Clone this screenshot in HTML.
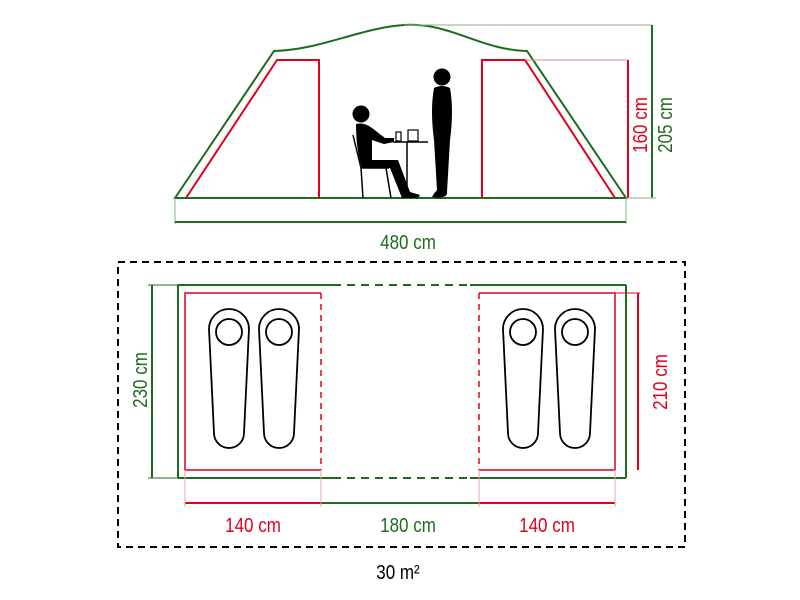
<!DOCTYPE html>
<html><head><meta charset="utf-8"><style>body{margin:0;background:#fff}svg{display:block}</style></head>
<body>
<svg width="800" height="600" viewBox="0 0 800 600" xmlns="http://www.w3.org/2000/svg" font-family="Liberation Sans, sans-serif">
<g fill="none">
<path d="M175,198 L274,51 C320,50 360,28 404,25 C450,22 480,50 527,51 L626,198 Z" stroke="#1e6b1e" stroke-width="2"/>
<path d="M186,198 L277,60 L319,60 L319,198" stroke="#e0001a" stroke-width="2"/>
<path d="M482,198 L482,60 L525,60 L615,198" stroke="#e0001a" stroke-width="2"/>
<line x1="525" y1="60" x2="628" y2="60" stroke="#f08080" stroke-width="1"/>
<line x1="628" y1="60" x2="628" y2="198" stroke="#e0001a" stroke-width="2"/>
<line x1="404" y1="25" x2="652" y2="25" stroke="#8ab08a" stroke-width="1"/>
<line x1="652" y1="25" x2="652" y2="198" stroke="#1e6b1e" stroke-width="2"/>
<line x1="626" y1="198" x2="656" y2="198" stroke="#8ab08a" stroke-width="1"/>
<line x1="175" y1="198" x2="175" y2="224" stroke="#8ab08a" stroke-width="1"/>
<line x1="626" y1="198" x2="626" y2="224" stroke="#8ab08a" stroke-width="1"/>
<line x1="175" y1="222" x2="626" y2="222" stroke="#1e6b1e" stroke-width="2"/>
</g>
<g font-size="20">
<text transform="translate(408,249) scale(0.85,1)" fill="#1e6b1e" text-anchor="middle">480 cm</text>
<text transform="translate(647,125) rotate(-90) scale(0.85,1)" fill="#e0001a" text-anchor="middle">160 cm</text>
<text transform="translate(672,125) rotate(-90) scale(0.85,1)" fill="#1e6b1e" text-anchor="middle">205 cm</text>
</g>
<g fill="#000">
<circle cx="442" cy="77" r="8.5"/>
<path d="M434,88 Q442,84 450,88 Q454,110 450,140 L447,192 Q448,197 438,198 L432,197 Q434,193 437,190 L434,140 Q430,110 434,88 Z"/>
<circle cx="361" cy="114" r="8.5"/>
<path d="M356,124 Q364,122 372,128 L385,138 L394,138 L394,142 L384,144 L372,140 L372,160 L398,160 L410,192 L420,195 L418,198 L402,198 L390,168 L362,168 Q356,150 356,124 Z"/>
<rect x="396" y="132" width="5" height="9" fill="none" stroke="#000" stroke-width="1.2"/>
<rect x="408" y="130" width="10" height="11" fill="none" stroke="#000" stroke-width="1.2"/>
</g>
<g stroke="#000" stroke-width="1.5" fill="none">
<line x1="393" y1="142" x2="428" y2="142"/>
<line x1="407" y1="142" x2="407" y2="198"/>
<line x1="353" y1="135" x2="361" y2="168"/>
<line x1="361" y1="168" x2="363" y2="198"/>
<line x1="361" y1="168" x2="389" y2="168"/>
<line x1="386" y1="168" x2="391" y2="198"/>
</g>
<rect x="118" y="262" width="567" height="285" fill="none" stroke="#000" stroke-width="2" stroke-dasharray="7,5"/>
<g stroke="#1e6b1e" stroke-width="2" fill="none">
<line x1="178" y1="285" x2="178" y2="478"/>
<line x1="626" y1="285" x2="626" y2="478"/>
<line x1="178" y1="285" x2="333" y2="285"/><line x1="470" y1="285" x2="626" y2="285"/>
<line x1="178" y1="478" x2="333" y2="478"/><line x1="470" y1="478" x2="626" y2="478"/>
<line x1="333" y1="285" x2="470" y2="285" stroke-dasharray="8,6"/>
<line x1="333" y1="478" x2="470" y2="478" stroke-dasharray="8,6"/>
<line x1="152" y1="285" x2="152" y2="478"/>
<line x1="148" y1="285" x2="178" y2="285" stroke-width="1"/>
<line x1="148" y1="478" x2="178" y2="478" stroke-width="1"/>
<line x1="321" y1="503" x2="479" y2="503"/>
</g>
<g stroke="#e0001a" fill="none">
<path d="M321,293 L185,293 L185,470 L321,470" stroke-width="1.5"/>
<line x1="321" y1="293" x2="321" y2="470" stroke-width="1.5" stroke-dasharray="6,5"/>
<path d="M479,293 L615,293 L615,470 L479,470" stroke-width="1.5"/>
<line x1="479" y1="293" x2="479" y2="470" stroke-width="1.5" stroke-dasharray="6,5"/>
<line x1="615" y1="293" x2="640" y2="293" stroke-width="1"/>
<line x1="638" y1="293" x2="638" y2="470" stroke-width="2"/>
<line x1="185" y1="503" x2="321" y2="503" stroke-width="2"/>
<line x1="479" y1="503" x2="615" y2="503" stroke-width="2"/>
<line x1="185" y1="470" x2="185" y2="507" stroke-width="1" stroke="#f4a0a0"/>
<line x1="321" y1="470" x2="321" y2="507" stroke-width="1" stroke="#f4a0a0"/>
<line x1="479" y1="470" x2="479" y2="507" stroke-width="1" stroke="#f4a0a0"/>
<line x1="615" y1="470" x2="615" y2="507" stroke-width="1" stroke="#f4a0a0"/>
</g>
<g font-size="20">
<text transform="translate(147,380) rotate(-90) scale(0.85,1)" fill="#1e6b1e" text-anchor="middle">230 cm</text>
<text transform="translate(667,382) rotate(-90) scale(0.85,1)" fill="#e0001a" text-anchor="middle">210 cm</text>
<text transform="translate(253,532) scale(0.85,1)" fill="#e0001a" text-anchor="middle">140 cm</text>
<text transform="translate(408,532) scale(0.85,1)" fill="#1e6b1e" text-anchor="middle">180 cm</text>
<text transform="translate(547,532) scale(0.85,1)" fill="#e0001a" text-anchor="middle">140 cm</text>
<text transform="translate(398,579) scale(0.85,1)" fill="#000" text-anchor="middle">30 m²</text>
</g>
<defs>
<g id="bag" fill="none" stroke="#000" stroke-width="1.8">
<path d="M-20,330 A20,20 0 0 1 20,330 L15,434 A15,15 0 0 1 -15,434 Z"/>
<circle cx="0" cy="333" r="13"/>
</g>
</defs>
<use href="#bag" x="229" y="-1"/>
<use href="#bag" x="279" y="-1"/>
<use href="#bag" x="523" y="-1"/>
<use href="#bag" x="575" y="-1"/>
</svg>
</body></html>
